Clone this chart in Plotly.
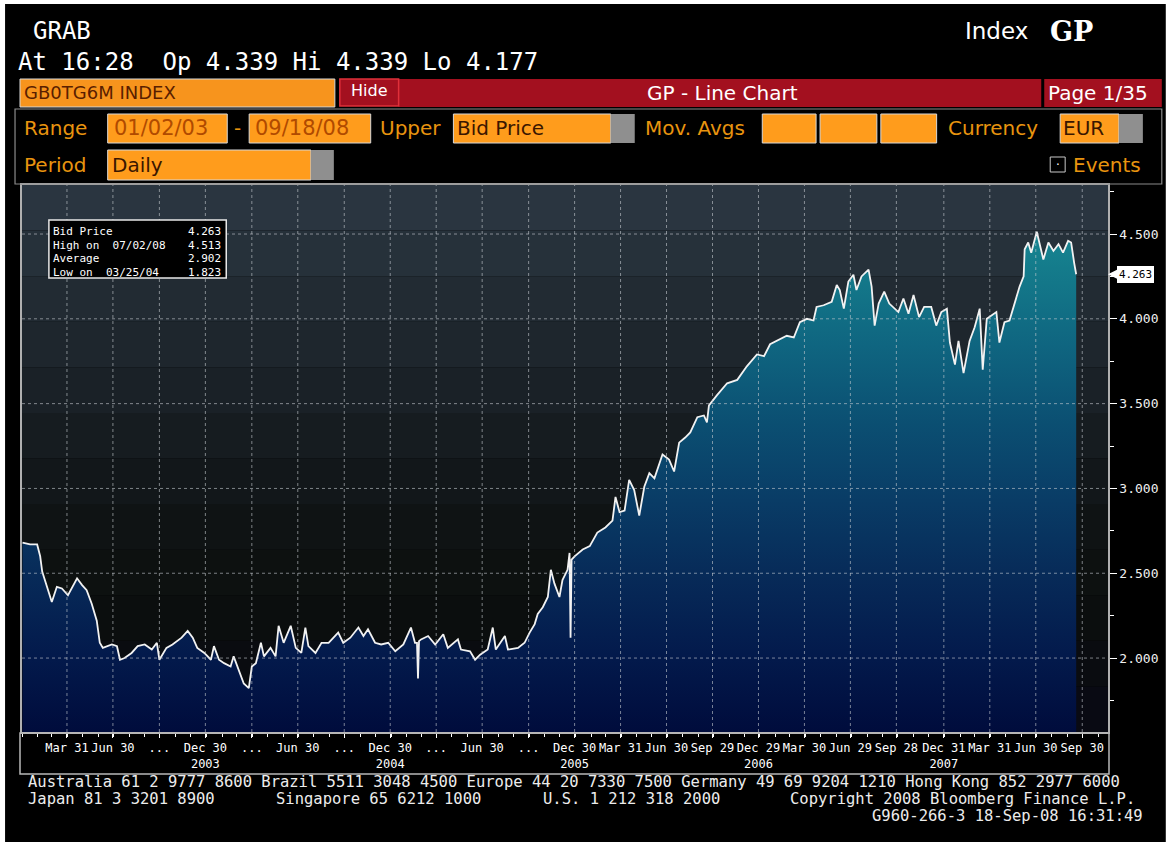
import plotly.graph_objects as go

# ---------------- data ----------------
dates = [
    "2003-01-02", "2003-01-17", "2003-01-31", "2003-02-06", "2003-02-10", "2003-02-16", "2003-02-21", "2003-03-01",
    "2003-03-11", "2003-03-21", "2003-04-02", "2003-04-12", "2003-04-20", "2003-04-30", "2003-05-09", "2003-05-19",
    "2003-05-29", "2003-06-04", "2003-06-10", "2003-06-28", "2003-07-08", "2003-07-14", "2003-07-23", "2003-08-06",
    "2003-08-18", "2003-09-01", "2003-09-15", "2003-09-25", "2003-09-30", "2003-10-14", "2003-10-26", "2003-11-13",
    "2003-11-25", "2003-12-05", "2003-12-14", "2003-12-28",
    "2004-01-10", "2004-01-16", "2004-01-26", "2004-02-05", "2004-02-18", "2004-02-24", "2004-03-05", "2004-03-15",
    "2004-03-25", "2004-03-31", "2004-04-08", "2004-04-18", "2004-04-24", "2004-05-07", "2004-05-17", "2004-05-23",
    "2004-06-02", "2004-06-16", "2004-06-26", "2004-07-07", "2004-07-15", "2004-07-21", "2004-08-04", "2004-08-16",
    "2004-08-30", "2004-09-18", "2004-09-28", "2004-10-12", "2004-10-28", "2004-11-07", "2004-11-16", "2004-11-30",
    "2004-12-12", "2004-12-26",
    "2005-01-09", "2005-01-25", "2005-02-09", "2005-02-17", "2005-02-21", "2005-02-23", "2005-02-25", "2005-03-01",
    "2005-03-15", "2005-03-29", "2005-04-14", "2005-04-23", "2005-05-13", "2005-05-19", "2005-06-06", "2005-06-16",
    "2005-06-26", "2005-07-11", "2005-07-21", "2005-07-27", "2005-08-14", "2005-08-20", "2005-09-09", "2005-09-22",
    "2005-10-02", "2005-10-12", "2005-10-18", "2005-10-28", "2005-11-07", "2005-11-13", "2005-11-20", "2005-11-30",
    "2005-12-06", "2005-12-16", "2005-12-20", "2005-12-22", "2005-12-24", "2005-12-30",
    "2006-01-15", "2006-01-29", "2006-02-13", "2006-03-01", "2006-03-15", "2006-03-21", "2006-03-29", "2006-04-08",
    "2006-04-17", "2006-04-27", "2006-05-07", "2006-05-17", "2006-05-27", "2006-06-06", "2006-06-22", "2006-07-05",
    "2006-07-15", "2006-07-25", "2006-08-06", "2006-08-16", "2006-08-30", "2006-09-12", "2006-09-18", "2006-09-22",
    "2006-10-08", "2006-10-28", "2006-11-17", "2006-12-06", "2006-12-26",
    "2007-01-09", "2007-01-21", "2007-02-03", "2007-02-23", "2007-03-09", "2007-03-21", "2007-04-04", "2007-04-17",
    "2007-04-23", "2007-05-07", "2007-05-23", "2007-06-02", "2007-06-08", "2007-06-16", "2007-06-25", "2007-07-05",
    "2007-07-11", "2007-07-21", "2007-08-04", "2007-08-10", "2007-08-16", "2007-08-24", "2007-09-04", "2007-09-14",
    "2007-10-02", "2007-10-12", "2007-10-22", "2007-11-01", "2007-11-12", "2007-11-22", "2007-12-06", "2007-12-16",
    "2007-12-26",
    "2008-01-06", "2008-01-12", "2008-01-22", "2008-01-29", "2008-02-08", "2008-02-20", "2008-03-01", "2008-03-11",
    "2008-03-17", "2008-03-25", "2008-04-04", "2008-04-13", "2008-04-19", "2008-04-29", "2008-05-09", "2008-05-19",
    "2008-05-29", "2008-06-06", "2008-06-08", "2008-06-15", "2008-06-21", "2008-07-02", "2008-07-15", "2008-07-25",
    "2008-08-04", "2008-08-14", "2008-08-23", "2008-09-02", "2008-09-08", "2008-09-14", "2008-09-18",
]
bid_price = [
    2.68, 2.67, 2.67, 2.60, 2.51, 2.45, 2.40, 2.33,
    2.42, 2.41, 2.37, 2.43, 2.47, 2.43, 2.40, 2.32,
    2.22, 2.09, 2.06, 2.08, 2.07, 1.99, 2.00, 2.03,
    2.07, 2.08, 2.05, 2.09, 1.99, 2.06, 2.08, 2.12,
    2.16, 2.12, 2.06, 2.03,
    1.99, 2.07, 1.99, 1.97, 1.95, 2.01, 1.93, 1.85,
    1.823, 1.95, 1.97, 2.09, 2.01, 2.06, 2.01, 2.19,
    2.09, 2.19, 2.06, 2.03, 2.18, 2.07, 2.03, 2.09,
    2.09, 2.15, 2.09, 2.12, 2.18, 2.13, 2.17, 2.09,
    2.08, 2.09,
    2.04, 2.08, 2.18, 2.09, 2.09, 1.88, 2.10, 2.11,
    2.13, 2.08, 2.14, 2.06, 2.11, 2.05, 2.04, 1.99,
    2.02, 2.05, 2.18, 2.05, 2.13, 2.05, 2.06, 2.09,
    2.15, 2.20, 2.26, 2.30, 2.36, 2.52, 2.44, 2.36,
    2.46, 2.52, 2.62, 2.12, 2.58, 2.60,
    2.64, 2.66, 2.74, 2.77, 2.81, 2.95, 2.86, 2.87,
    3.05, 2.99, 2.84, 3.01, 3.09, 3.06, 3.20, 3.17,
    3.10, 3.27, 3.30, 3.33, 3.42, 3.43, 3.39, 3.49,
    3.55, 3.62, 3.64, 3.72, 3.79,
    3.78, 3.85, 3.87, 3.90, 3.89, 3.98, 4.00, 3.99,
    4.07, 4.08, 4.10, 4.20, 4.17, 4.06, 4.22, 4.26,
    4.17, 4.25, 4.29, 4.19, 3.96, 4.09, 4.16, 4.09,
    4.04, 4.12, 4.03, 4.14, 4.01, 4.07, 4.07, 3.96,
    4.04,
    4.06, 3.86, 3.73, 3.87, 3.68, 3.87, 3.95, 4.06,
    3.70, 4.00, 4.02, 4.04, 3.86, 3.98, 3.99, 4.09,
    4.19, 4.25, 4.41, 4.45, 4.39, 4.513, 4.35, 4.45,
    4.40, 4.44, 4.39, 4.46, 4.45, 4.33, 4.263,
]

quarter_ticks = [
    "2003-03-31", "2003-06-30", "2003-09-30", "2003-12-30", "2004-03-31", "2004-06-30", "2004-09-30", "2004-12-30",
    "2005-03-31", "2005-06-30", "2005-09-30", "2005-12-30", "2006-03-31", "2006-06-30", "2006-09-29", "2006-12-29",
    "2007-03-30", "2007-06-29", "2007-09-28", "2007-12-31", "2008-03-31", "2008-06-30", "2008-09-30",
]
quarter_labels = [
    "Mar 31", "Jun 30", "...", "Dec 30<br>2003", "...", "Jun 30", "...", "Dec 30<br>2004",
    "...", "Jun 30", "...", "Dec 30<br>2005", "Mar 31", "Jun 30", "Sep 29", "Dec 29<br>2006",
    "Mar 30", "Jun 29", "Sep 28", "Dec 31<br>2007", "Mar 31", "Jun 30", "Sep 30",
]
price_ticks = [2.0, 2.5, 3.0, 3.5, 4.0, 4.5]
stat_labels = ["Bid Price", "High on  07/02/08", "Average", "Low on  03/25/04"]
stat_values = ["4.263", "4.513", "2.902", "1.823"]
last_price = 4.263
last_label = "4.263"

x_range = ["2003-01-01", "2008-11-20"]
y_range = [1.564, 4.789]

# ---------------- layout helpers (pixel -> paper) ----------------
W, H = 1170, 842
PL, PR, PT, PB = 22, 1112, 185, 732


def X(p):
    return (p - PL) / (PR - PL)


def Y(p):
    return (PB - p) / (PB - PT)


MONO = "DejaVu Sans Mono, monospace"
SANS = "DejaVu Sans, sans-serif"
ORANGE_TXT = "#e8940f"
BOX = "#ff9c1c"
RED = "#a3101f"

shapes = []
annotations = []


def rect(x0, y0, x1, y1, fill="rgba(0,0,0,0)", line=None, lw=0, layer="above"):
    shapes.append(dict(type="rect", xref="paper", yref="paper",
                       x0=X(x0), x1=X(x1), y0=Y(y1), y1=Y(y0),
                       fillcolor=fill, line=dict(color=line or "rgba(0,0,0,0)", width=lw),
                       layer=layer))


def txt(x, y, s, size, color, family=SANS, xanchor="left", weight="normal"):
    annotations.append(dict(x=X(x), y=Y(y), xref="paper", yref="paper", text=s, showarrow=False,
                            xanchor=xanchor, yanchor="middle",
                            font=dict(size=size, color=color, family=family, weight=weight)))


# page background (white strip top/left, black terminal)
rect(5, 4, 1170, 842, fill="#000000", layer="below")

# plot background bands (top -> bottom)
band_colors = ["#2a3540", "#26313a", "#222b33", "#1e262d", "#1a2127", "#161c20",
               "#12171a", "#0f1314", "#0d1110", "#0b0e0e", "#0a0c10", "#090a13"]
nb = len(band_colors)
for i, c in enumerate(band_colors):
    shapes.append(dict(type="rect", xref="paper", yref="paper", x0=0, x1=1,
                       y0=1 - (i + 1) / nb, y1=1 - i / nb, fillcolor=c,
                       line=dict(width=0), layer="below"))

# grid (dotted, above the fill)
grid_line = dict(color="rgba(200,205,210,0.6)", width=1, dash="dot")
for d in quarter_ticks:
    shapes.append(dict(type="line", xref="x", yref="paper", x0=d, x1=d, y0=0, y1=1,
                       line=grid_line, layer="above"))
for v in price_ticks:
    shapes.append(dict(type="line", xref="paper", yref="y", x0=0, x1=1, y0=v, y1=v,
                       line=grid_line, layer="above"))

# info box
rect(49, 220, 227, 278, fill="#000000", line="#e8e8e8", lw=1.5)
row_y = [231, 245, 258, 272]
for lab, val, yy in zip(stat_labels, stat_values, row_y):
    txt(51, yy, lab.replace(" ", "\u00a0"), 11, "#ffffff", MONO)
    txt(224, yy, val, 11, "#ffffff", MONO, xanchor="right")

# x-label box
rect(20, 733, 1113, 774, line="#b8b8b8", lw=1.5)

# ---------------- header ----------------
txt(31, 31, "GRAB", 24, "#ffffff", MONO)
txt(16, 62, "At 16:28\u00a0\u00a0Op 4.339 Hi 4.339 Lo 4.177", 24, "#ffffff", MONO)
txt(966, 31, "Index", 23, "#ffffff", SANS)
txt(1052, 31, "GP", 27, "#ffffff", "DejaVu Serif, serif", weight="bold")

# row 1
rect(20, 79, 336, 107, fill="#f7941d", line="#d8d8d8", lw=1)
txt(22, 93, "GB0TG6M INDEX", 18, "#5a1e00")
rect(400, 79, 1045, 107, fill=RED)
rect(341, 79, 400, 106, fill=RED, line="#e0303a", lw=1.5)
txt(370, 90, "Hide", 16, "#ffffff", xanchor="center")
txt(725, 93, "GP - Line Chart", 20, "#ffffff", xanchor="center")
rect(1048, 79, 1166, 107, fill=RED)
txt(1050, 93, "Page 1/35", 20, "#ffffff")

# rows 2-3 frame
rect(15, 109, 1166, 184, line="#8a8a8a", lw=1.2)

# row 2
ry = 128.5
txt(22, ry, "Range", 20, ORANGE_TXT)
rect(108, 114, 228, 143, fill=BOX, line="#d8d8d8", lw=1)
txt(112, ry, "01/02/03", 21, "#b04a00")
txt(238, ry, "-", 20, ORANGE_TXT, xanchor="center")
rect(250, 114, 372, 143, fill=BOX, line="#d8d8d8", lw=1)
txt(254, ry, "09/18/08", 21, "#b04a00")
txt(379, ry, "Upper", 20, ORANGE_TXT)
rect(455, 114, 613, 143, fill=BOX, line="#d8d8d8", lw=1)
txt(457, ry, "Bid Price", 20, "#3a1600")
rect(613, 114, 637, 143, fill="#8f8f8f")
txt(645, ry, "Mov. Avgs", 20, ORANGE_TXT)
for a, b in [(765, 819), (823, 880), (884, 940)]:
    rect(a, 114, b, 143, fill=BOX, line="#d8d8d8", lw=1)
txt(949, ry, "Currency", 20, ORANGE_TXT)
rect(1064, 114, 1123, 143, fill=BOX, line="#d8d8d8", lw=1)
txt(1065, ry, "EUR", 20, "#3a1600")
rect(1123, 114, 1147, 143, fill="#8f8f8f")

# row 3
py3 = 165
txt(22, py3, "Period", 20, ORANGE_TXT)
rect(108, 150, 312, 180, fill=BOX, line="#d8d8d8", lw=1)
txt(110, py3, "Daily", 20, "#3a1600")
rect(312, 150, 335, 180, fill="#8f8f8f")
rect(1054, 157, 1069, 172, line="#c8c8c8", lw=1)
txt(1061.5, 164.5, "·", 12, "#ffffff", xanchor="center")
txt(1075, py3, "Events", 20, ORANGE_TXT)

# ---------------- footer ----------------
FC = "#ececec"
FS = 15.5
txt(26, 782, "Australia 61 2 9777 8600 Brazil 5511 3048 4500 Europe 44 20 7330 7500 Germany 49 69 9204 1210 Hong Kong 852 2977 6000",
    FS, FC, MONO)
txt(26, 799, "Japan 81 3 3201 8900", FS, FC, MONO)
txt(275, 799, "Singapore 65 6212 1000", FS, FC, MONO)
txt(543, 799, "U.S. 1 212 318 2000", FS, FC, MONO)
txt(791, 799, "Copyright 2008 Bloomberg Finance L.P.", FS, FC, MONO)
txt(1149, 816, "G960-266-3 18-Sep-08 16:31:49", FS, FC, MONO, xanchor="right")

# last price tag
annotations.append(dict(x=1, xref="paper", y=last_price, yref="y", text=last_label,
                        showarrow=True, ax=27, ay=0, arrowhead=2, arrowsize=1.2, arrowwidth=1.5,
                        arrowcolor="#ffffff", standoff=0,
                        font=dict(size=11, color="#000000", family=MONO),
                        bgcolor="#ffffff", bordercolor="#ffffff", borderpad=1))

# ---------------- traces ----------------
fig = go.Figure()
fig.add_trace(go.Scatter(
    x=dates, y=bid_price, mode="lines", fill="tozeroy",
    line=dict(color="#f2f2f2", width=1.8),
    fillgradient=dict(type="vertical", start=y_range[0], stop=4.6,
                      colorscale=[[0.0, "#000c3c"], [0.15, "#031a4c"], [0.3, "#072a58"],
                                  [0.45, "#093c66"], [0.6, "#0b4f72"], [0.75, "#0f6580"],
                                  [0.9, "#147b8b"], [1.0, "#198b95"]]),
    name="Bid Price",
))

fig.update_layout(
    width=W, height=H,
    margin=dict(l=PL, r=W - PR, t=PT, b=H - PB),
    paper_bgcolor="#ffffff", plot_bgcolor="#0b0e10",
    showlegend=False,
    shapes=shapes, annotations=annotations,
)
fig.update_xaxes(
    type="date", range=x_range, showgrid=False, zeroline=False,
    tickmode="array", tickvals=quarter_ticks, ticktext=quarter_labels, tickangle=0,
    ticks="outside", ticklen=4, tickcolor="#ffffff", tickwidth=1,
    tickfont=dict(family=MONO, size=12, color="#ffffff"),
    minor=dict(ticks="outside", ticklen=3, tickcolor="#ffffff", dtick="M1", tick0="2003-01-01", showgrid=False),
    showline=True, mirror=True, linecolor="#b0b0b0", linewidth=1.5,
)
fig.update_yaxes(
    range=y_range, side="right", showgrid=False, zeroline=False,
    tickmode="linear", tick0=0, dtick=0.5, tickformat=".3f",
    ticks="outside", ticklen=7, tickcolor="#ffffff", tickwidth=1,
    tickfont=dict(family=MONO, size=13, color="#f0f0f0"),
    minor=dict(ticks="outside", ticklen=4, tickcolor="#ffffff", dtick=0.25, showgrid=False),
    showline=True, mirror=True, linecolor="#b0b0b0", linewidth=1.5,
)

fig.write_html("out.html", config={"displayModeBar": False},
               post_script="document.body.style.margin='0';document.body.style.overflow='hidden';")
